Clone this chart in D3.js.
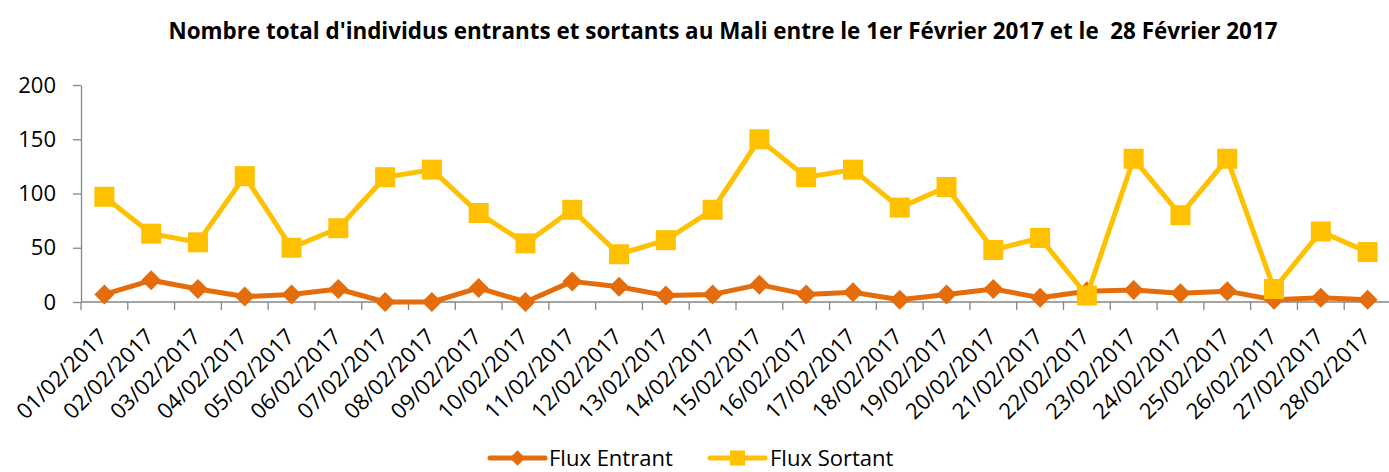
<!DOCTYPE html>
<html>
<head>
<meta charset="utf-8">
<script src="https://cdn.jsdelivr.net/npm/d3@7"></script>
<style>
  body { margin: 0; background: #fff; }
  text { font-family: "Open Sans", sans-serif; fill: #000; }
</style>
</head>
<body>
<div id="chart"></div>
<script>
const width = 1389;
const height = 472;

const title = "Nombre total d'individus entrants et sortants au Mali entre le 1er Février 2017 et le\u00a0\u00a028 Février 2017";

const dates = [
    "01/02/2017", "02/02/2017", "03/02/2017", "04/02/2017", "05/02/2017", "06/02/2017", "07/02/2017",
    "08/02/2017", "09/02/2017", "10/02/2017", "11/02/2017", "12/02/2017", "13/02/2017", "14/02/2017",
    "15/02/2017", "16/02/2017", "17/02/2017", "18/02/2017", "19/02/2017", "20/02/2017", "21/02/2017",
    "22/02/2017", "23/02/2017", "24/02/2017", "25/02/2017", "26/02/2017", "27/02/2017", "28/02/2017"
];

const fluxEntrant = [7, 20, 12, 5, 7, 12, 0, 0, 13, 0, 19, 14, 6, 7, 16, 7, 9, 2, 7, 12, 4, 10, 11, 8, 10, 2, 4, 2];
const fluxSortant = [97, 63, 55, 116, 50, 68, 115, 122, 82, 54, 85, 44, 57, 85, 150, 115, 122, 87, 106, 48, 59, 6, 132, 80, 132, 12, 65, 46];

const yTicks = [0, 50, 100, 150, 200];

const series = [
    { name: "Flux Entrant", values: fluxEntrant, color: "#E46C0A", shape: "diamond" },
    { name: "Flux Sortant", values: fluxSortant, color: "#FFC000", shape: "square" }
];

const svg = d3.select("#chart").append("svg")
    .attr("width", width)
    .attr("height", height)
    .style("display", "block");

const x = d3.scaleBand().domain(dates).range([81, 1391]).padding(0);
const y = d3.scaleLinear().domain([0, 200]).range([302, 85]);

// title
const t = svg.append("text")
    .attr("x", 723)
    .attr("y", 39)
    .attr("text-anchor", "middle")
    .style("font-weight", "bold")
    .style("font-size", "20px")
    .text(title);
const tw = t.node().getComputedTextLength();
t.style("font-size", (20 * 1110 / tw) + "px");

// y axis
const yAxis = svg.append("g")
    .attr("transform", "translate(81,0)")
    .call(d3.axisLeft(y).tickValues(yTicks).tickSize(8).tickPadding(17).tickSizeOuter(0));
yAxis.select(".domain").attr("stroke", "#868686").attr("stroke-width", 1.3);
yAxis.selectAll(".tick line").attr("stroke", "#868686").attr("stroke-width", 1.3);
yAxis.selectAll(".tick text")
    .style("font-family", "'Open Sans', sans-serif")
    .style("font-size", "22px")
    .attr("fill", "#000");

// x axis (ticks between categories)
const xg = svg.append("g");
xg.append("line")
    .attr("x1", x.range()[0]).attr("x2", x.range()[1])
    .attr("y1", y(0)).attr("y2", y(0))
    .attr("stroke", "#868686").attr("stroke-width", 1.3);
const edges = dates.map(d => x(d)).concat([x.range()[1]]);
xg.selectAll("line.tk").data(edges).enter().append("line")
    .attr("class", "tk")
    .attr("x1", d => d).attr("x2", d => d)
    .attr("y1", y(0)).attr("y2", y(0) + 8)
    .attr("stroke", "#868686").attr("stroke-width", 1.3);
xg.selectAll("text").data(dates).enter().append("text")
    .attr("transform", d => `translate(${x(d) + x.bandwidth() / 2 + 4},${338}) rotate(-45)`)
    .attr("text-anchor", "end")
    .style("font-size", "22px")
    .text(d => d);

// lines and markers
const line = d3.line()
    .x((d, i) => x(dates[i]) + x.bandwidth() / 2)
    .y(d => y(d));

series.forEach(s => {
    const g = svg.append("g");
    g.append("path")
        .datum(s.values)
        .attr("fill", "none")
        .attr("stroke", s.color)
        .attr("stroke-width", 5)
        .attr("stroke-linejoin", "round")
        .attr("d", line);
    g.selectAll("path.m").data(s.values).enter().append("path")
        .attr("class", "m")
        .attr("fill", s.color)
        .attr("d", d3.symbol().type(d3.symbolSquare).size(s.shape === "square" ? 400 : 200)())
        .attr("transform", (d, i) => `translate(${x(dates[i]) + x.bandwidth() / 2},${y(d)})` + (s.shape === "diamond" ? " rotate(45)" : ""));
});

// legend
const legendItems = [
    { s: series[0], x0: 490, tx: 549 },
    { s: series[1], x0: 710, tx: 770 }
];
legendItems.forEach(l => {
    const g = svg.append("g");
    g.append("line")
        .attr("x1", l.x0).attr("x2", l.x0 + 55)
        .attr("y1", 458).attr("y2", 458)
        .attr("stroke", l.s.color).attr("stroke-width", 5)
        .attr("stroke-linecap", "round");
    g.append("path")
        .attr("fill", l.s.color)
        .attr("d", d3.symbol().type(d3.symbolSquare).size(l.s.shape === "square" ? 225 : 120)())
        .attr("transform", `translate(${l.x0 + 27.5},458)` + (l.s.shape === "diamond" ? " rotate(45)" : ""));
    g.append("text")
        .attr("x", l.tx)
        .attr("y", 466)
        .style("font-size", "22px")
        .text(l.s.name);
});
</script>
</body>
</html>
